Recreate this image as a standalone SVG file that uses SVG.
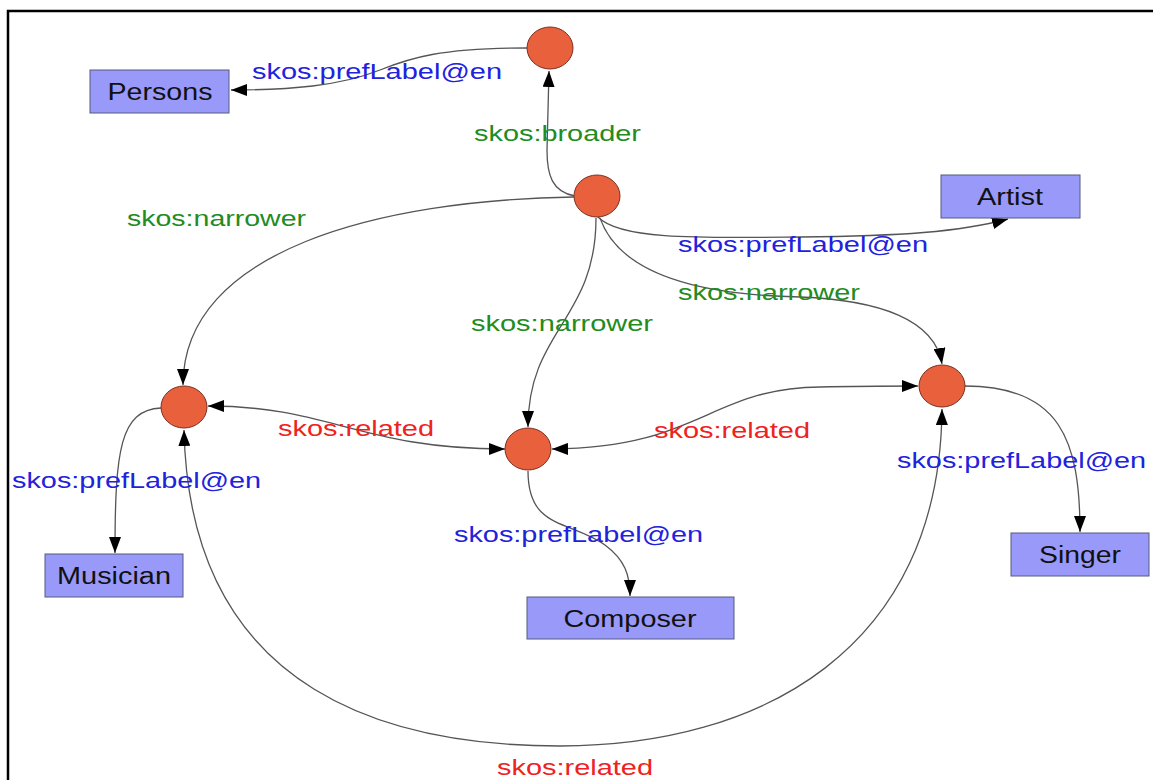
<svg xmlns="http://www.w3.org/2000/svg" width="1153" height="780" viewBox="0 0 1153 780">
<defs>
<marker id="arr" viewBox="0 0 16 12" refX="16" refY="6" markerWidth="16" markerHeight="12" markerUnits="userSpaceOnUse" orient="auto-start-reverse">
<path d="M0,0 L16,6 L0,12 Z" fill="#000"/>
</marker>
<style>
.frame{stroke:#000;stroke-width:2.5;fill:none}
.edge{fill:none;stroke:#555;stroke-width:1.3}
.end{marker-end:url(#arr)}
.both{marker-start:url(#arr);marker-end:url(#arr)}
.concept{fill:#e8603c;stroke:#7a3020;stroke-width:1}
.lit rect{fill:#9999fa;stroke:#555a80;stroke-width:1}
.lit text{font-family:"Liberation Sans",Arial,sans-serif;font-size:23px;fill:#111;text-anchor:middle}
.lbl{font-family:"Liberation Sans",Arial,sans-serif;font-size:22px}
.blue{fill:#2222dd}
.green{fill:#228b22}
.red{fill:#ee2222}
</style>
</defs>
<rect width="1153" height="780" fill="#fff"/>
<path class="frame" d="M8,780 L8,11 L1153,11"/>

<g id="connectors">
<path class="edge end" d="M527,48 C 440,48 410,58 380,70 C 340,86 290,90 231,90"/>
<path class="edge end" d="M575,196 C 552,192 547,175 547,150 L 549,71"/>
<path class="edge end" d="M574,197 C 380,200 183,250 183,385"/>
<path class="edge end" d="M598,217 C 620,240 700,238 800,237 C 900,236 960,232 1008,219"/>
<path class="edge end" d="M596,218 C 596,320 528,330 528,427"/>
<path class="edge end" d="M600,218 C 620,275 700,295 800,297 C 880,300 935,320 942,364"/>
<path class="edge both" d="M208,406 C 330,406 360,449 505,449"/>
<path class="edge both" d="M552,449 C 700,448 710,388 820,387 C 860,386 890,386 918,386"/>
<path class="edge both" d="M184,430 C 190,700 400,746 560,746 C 760,746 940,650 942,409"/>
<path class="edge end" d="M161,408 C 120,410 115,450 115,553"/>
<path class="edge end" d="M528,471 C 528,530 570,520 605,545 C 625,560 630,575 630,596"/>
<path class="edge end" d="M965,386 C 1060,386 1080,440 1080,532"/>

<text class="lbl blue" x="252" y="79" textLength="250" lengthAdjust="spacingAndGlyphs">skos:prefLabel@en</text>
<text class="lbl green" x="474" y="141" textLength="167" lengthAdjust="spacingAndGlyphs">skos:broader</text>
<text class="lbl green" x="127" y="226" textLength="179" lengthAdjust="spacingAndGlyphs">skos:narrower</text>
<text class="lbl blue" x="678" y="252" textLength="250" lengthAdjust="spacingAndGlyphs">skos:prefLabel@en</text>
<text class="lbl green" x="678" y="300" textLength="182" lengthAdjust="spacingAndGlyphs">skos:narrower</text>
<text class="lbl green" x="471" y="331" textLength="182" lengthAdjust="spacingAndGlyphs">skos:narrower</text>
<text class="lbl red" x="278" y="436" textLength="156" lengthAdjust="spacingAndGlyphs">skos:related</text>
<text class="lbl red" x="654" y="438" textLength="156" lengthAdjust="spacingAndGlyphs">skos:related</text>
<text class="lbl blue" x="12" y="488" textLength="249" lengthAdjust="spacingAndGlyphs">skos:prefLabel@en</text>
<text class="lbl blue" x="454" y="542" textLength="249" lengthAdjust="spacingAndGlyphs">skos:prefLabel@en</text>
<text class="lbl blue" x="897" y="468" textLength="249" lengthAdjust="spacingAndGlyphs">skos:prefLabel@en</text>
<text class="lbl red" x="497" y="775" textLength="156" lengthAdjust="spacingAndGlyphs">skos:related</text>
</g>

<g id="c-persons"><ellipse class="concept" cx="550" cy="48" rx="23" ry="21"/></g>
<g id="c-artist"><ellipse class="concept" cx="597" cy="196" rx="23" ry="21"/></g>
<g id="c-musician"><ellipse class="concept" cx="184" cy="407" rx="23" ry="21"/></g>
<g id="c-composer"><ellipse class="concept" cx="528" cy="449" rx="23" ry="21"/></g>
<g id="c-singer"><ellipse class="concept" cx="942" cy="386" rx="23" ry="21"/></g>

<g id="l-persons" class="lit"><rect x="90" y="70" width="139" height="43"/><text x="160" y="100" textLength="105" lengthAdjust="spacingAndGlyphs">Persons</text></g>
<g id="l-artist" class="lit"><rect x="941" y="175" width="139" height="43"/><text x="1010" y="205" textLength="66" lengthAdjust="spacingAndGlyphs">Artist</text></g>
<g id="l-musician" class="lit"><rect x="45" y="554" width="138" height="43"/><text x="114" y="584" textLength="114" lengthAdjust="spacingAndGlyphs">Musician</text></g>
<g id="l-composer" class="lit"><rect x="527" y="597" width="207" height="42"/><text x="630" y="627" textLength="133" lengthAdjust="spacingAndGlyphs">Composer</text></g>
<g id="l-singer" class="lit"><rect x="1011" y="533" width="138" height="43"/><text x="1080" y="563" textLength="82" lengthAdjust="spacingAndGlyphs">Singer</text></g>
</svg>
